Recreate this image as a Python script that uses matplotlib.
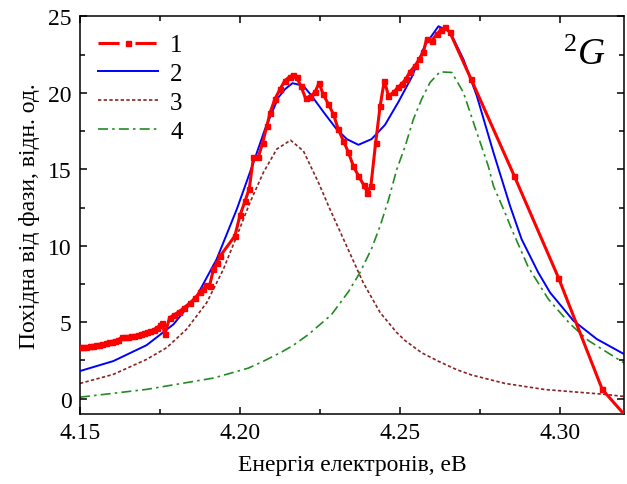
import numpy as np
import matplotlib
matplotlib.use('Agg')
import matplotlib.pyplot as plt
from matplotlib.lines import Line2D

plt.rcParams['font.family'] = ['Liberation Serif', 'DejaVu Serif']
plt.rcParams['mathtext.fontset'] = 'custom'
plt.rcParams['mathtext.rm'] = 'Liberation Serif'
plt.rcParams['mathtext.it'] = 'Liberation Serif:italic'

# curve 1: experiment (red, squares)
x1 = [4.150, 4.151, 4.152, 4.153, 4.154, 4.155, 4.156, 4.157, 4.158, 4.159,
      4.160, 4.161, 4.162, 4.163, 4.164, 4.165, 4.166, 4.167, 4.168, 4.169,
      4.170, 4.171, 4.172, 4.173, 4.174, 4.175, 4.1757, 4.1765, 4.178, 4.1795,
      4.181, 4.1825, 4.1845, 4.186, 4.1875, 4.1885, 4.1895, 4.1905, 4.1917, 4.1928,
      4.1938, 4.1984, 4.200, 4.2016, 4.2029, 4.2042, 4.2057, 4.2071,
      4.2084, 4.2094, 4.2109, 4.2125, 4.214, 4.2155, 4.2165, 4.2177, 4.219,
      4.2205, 4.2218, 4.2234, 4.2247, 4.226, 4.2276, 4.2292, 4.2307, 4.2323, 4.2339,
      4.2354, 4.237, 4.2386, 4.2398, 4.2409, 4.2424, 4.2438, 4.2451, 4.2464, 4.248,
      4.2493, 4.2505, 4.2518, 4.2531, 4.2547, 4.256, 4.2573, 4.2583, 4.2599, 4.2615,
      4.2628, 4.2641, 4.2656, 4.2722, 4.2857, 4.2995, 4.3132, 4.325]
y1 = [3.36, 3.38, 3.40, 3.43, 3.46, 3.50, 3.54, 3.58, 3.63, 3.68,
      3.74, 3.80, 3.86, 4.02, 4.02, 4.05, 4.09, 4.13, 4.18, 4.23,
      4.29, 4.35, 4.43, 4.52, 4.63, 4.80, 4.95, 4.21, 5.30, 5.50,
      5.70, 5.95, 6.28, 6.60, 6.95, 7.15, 7.45, 7.40, 8.46, 8.90,
      9.33, 10.64, 12.0, 12.93, 13.74, 15.77, 15.77, 16.75,
      17.84, 18.7, 19.59, 20.24, 20.79, 21.05, 21.15, 21.0, 20.46,
      19.63, 19.75, 20.03, 20.64, 19.9, 19.26, 18.6, 17.62, 16.86, 16.1,
      15.22, 14.57, 14.0, 13.48, 13.91, 16.75, 19.15, 20.79, 19.8, 20.03,
      20.35, 20.57, 20.9, 21.37, 21.77, 22.2, 22.64, 23.51, 23.4, 23.84,
      24.12, 24.28, 23.95, 20.9, 14.57, 7.92, 0.61, -2.2]

# curve 2: fit (blue)
x2 = [4.150, 4.1604, 4.1708, 4.1792, 4.1865, 4.1927, 4.199, 4.2042, 4.2078, 4.212,
      4.2141, 4.2164, 4.2198, 4.2224, 4.2266, 4.2302, 4.2334, 4.237, 4.2411, 4.2453,
      4.2495, 4.2536, 4.2578, 4.262, 4.2656, 4.2698, 4.274, 4.2792, 4.2844, 4.288,
      4.2932, 4.2969, 4.3042, 4.3115, 4.320]
y2 = [1.81, 2.46, 3.50, 4.86, 6.72, 9.12, 12.39, 15.44, 17.62, 19.7,
      20.24, 20.63, 20.46, 19.8, 18.6, 17.62, 16.97, 16.6, 16.97, 17.9,
      19.4, 21.0, 23.1, 24.35, 24.0, 22.2, 19.8, 16.1, 12.6, 10.43,
      8.25, 6.94, 5.1, 3.9, 2.92]

# curve 3: first component (brown, dotted)
x3 = [4.150, 4.1604, 4.1708, 4.1771, 4.1833, 4.1896, 4.1948, 4.199, 4.2031, 4.2073,
      4.2115, 4.2158, 4.2198, 4.2245, 4.2281, 4.2333, 4.2385, 4.2438, 4.249, 4.2516,
      4.2568, 4.262, 4.2677, 4.2724, 4.2828, 4.2953, 4.3132, 4.320]
y3 = [1.0, 1.59, 2.57, 3.34, 4.54, 6.28, 8.46, 10.64, 12.82, 14.79,
      16.32, 16.9, 16.2, 14.14, 12.39, 9.99, 7.59, 5.63, 4.32, 3.8,
      3.0, 2.45, 1.9, 1.55, 1.0, 0.6, 0.3, 0.15]

# curve 4: second component (green, dash-dot)
x4 = [4.150, 4.1708, 4.1917, 4.2026, 4.2073, 4.213, 4.2167, 4.2214, 4.2286, 4.2339,
      4.2375, 4.2411, 4.2438, 4.2464, 4.249, 4.2516, 4.2542, 4.2568, 4.2594, 4.2625,
      4.2662, 4.2698, 4.274, 4.2776, 4.2792, 4.2828, 4.2849, 4.2901, 4.2964, 4.3031,
      4.3089, 4.3203]
y4 = [0.1, 0.61, 1.35, 2.0, 2.45, 3.05, 3.5, 4.2, 5.5, 7.0,
      8.25, 9.8, 11.3, 13.0, 15.0, 16.5, 18.28, 19.6, 20.68, 21.37,
      21.33, 20.03, 17.41, 15.2, 13.91, 12.17, 11.08, 8.6, 6.5, 4.9,
      3.8, 2.3]

RED = '#ff0000'
BLUE = '#0000ff'
BROWN = '#8b2323'
GREEN = '#228b22'

fig = plt.figure(figsize=(6.27, 4.85), dpi=100)
ax = fig.add_axes([0.1276, 0.1443, 0.8676, 0.82])

ax.plot(x1, y1, color=RED, lw=2.2, marker='s', ms=3.6, zorder=4)
ax.plot(x2, y2, color=BLUE, lw=1.4, zorder=3)
ax.plot(x3, y3, color=BROWN, lw=1.2, ls=(0, (2, 1.4)), zorder=2)
ax.plot(x4, y4, color=GREEN, lw=1.2, ls=(0, (6, 2.5, 1.5, 2.5)), zorder=2)

ax.set_xlim(4.15, 4.32)
ax.set_ylim(-1, 25)
ax.set_xticks([4.15, 4.20, 4.25, 4.30])
ax.set_xticklabels(['4.15', '4.20', '4.25', '4.30'])
ax.set_xticks([4.175, 4.225, 4.275], minor=True)
ax.set_yticks([0, 5, 10, 15, 20, 25])
ax.set_yticks([2.5, 7.5, 12.5, 17.5, 22.5], minor=True)
ax.tick_params(which='both', direction='in', top=True, right=True,
               labelsize=17, width=1.1)
ax.tick_params(which='major', length=5, pad=6)
ax.tick_params(which='minor', length=3.5)
for s in ax.spines.values():
    s.set_linewidth(1.1)

ax.set_xlabel('Енергія електронів, еВ', fontsize=17, labelpad=8)
ax.set_ylabel('Похідна від фази, відн. од.', fontsize=17, labelpad=6)

ax.text(0.966, 0.88, r'$^{2}\mathit{G}$', transform=ax.transAxes,
        fontsize=27, ha='right', va='baseline')

handles = [
    Line2D([], [], color=RED, lw=2.2, ls=(0, (6.9, 5.2)), marker='s', ms=3.6),
    Line2D([], [], color=BLUE, lw=1.4),
    Line2D([], [], color=BROWN, lw=1.2, ls=(0, (2, 1.4))),
    Line2D([], [], color=GREEN, lw=1.2, ls=(0, (6, 2.5, 1.5, 2.5))),
]
ax.legend(handles, ['1', '2', '3', '4'], loc='upper left', frameon=False,
          fontsize=18, handlelength=2.4, handletextpad=0.5, labelspacing=0.25,
          borderaxespad=0.3)

fig.savefig('out.png', dpi=100)
